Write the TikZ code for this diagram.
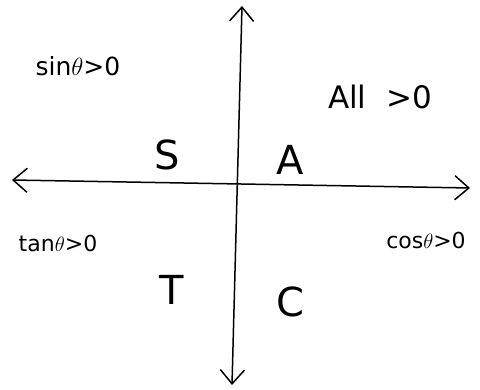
\documentclass[tikz,border=0pt]{standalone}
\usepackage{fontspec}
\setmainfont{DejaVu Sans}
\usetikzlibrary{arrows.meta}
\begin{document}
\begin{tikzpicture}[x=1pt,y=-1pt,
  axis/.style={line width=1.5pt,black,{Straight Barb[length=14pt,width=24pt,line width=1.5pt]}-{Straight Barb[length=14pt,width=24pt,line width=1.5pt]}},
  big/.style={font=\fontsize{40}{44}\selectfont},
  mid/.style={font=\fontsize{25}{28}\selectfont},
  large/.style={font=\fontsize{31}{34}\selectfont},
  small/.style={font=\fontsize{22}{24}\selectfont}]
\useasboundingbox (0,0) rectangle (480,390);
\coordinate (top) at (242,6);
\coordinate (bot) at (232,385);
\coordinate (left) at (12,180);
\coordinate (right) at (470,188);
\draw[axis] (bot) -- (top);
\draw[axis] (left) -- (right);
\node[mid] (sin) at (78,66) {sin$\theta$>0};
\node[large] (all) at (380,97) {All\ \ >0};
\node[big] (s) at (167,155) {S};
\node[big] (a) at (290,160) {A};
\node[small] (tan) at (58,243) {tan$\theta$>0};
\node[small] (cos) at (426,240) {cos$\theta$>0};
\node[big] (t) at (172,290) {T};
\node[big] (c) at (290,302) {C};
\end{tikzpicture}
\end{document}
